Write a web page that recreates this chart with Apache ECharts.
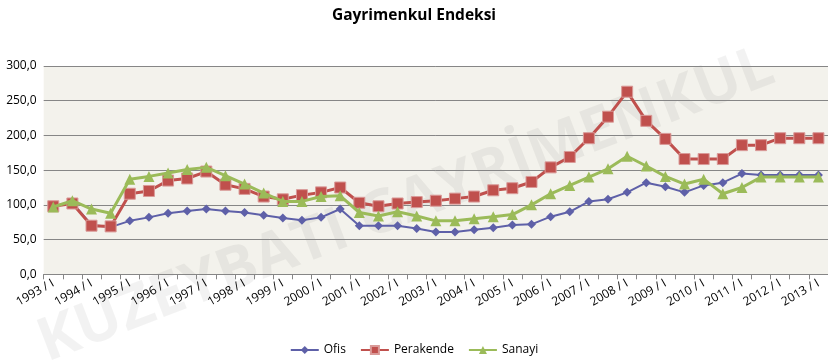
<!DOCTYPE html>
<html><head><meta charset="utf-8">
<script src="https://cdn.jsdelivr.net/npm/echarts@6/dist/echarts.min.js"></script>
<style>html,body{margin:0;padding:0;background:#fff}#c{width:828px;height:364px}</style>
</head><body><div id="c"></div>
<script>
const years = [1993,1994,1995,1996,1997,1998,1999,2000,2001,2002,2003,2004,2005,2006,2007,2008,2009,2010,2011,2012,2013];
const halves = ['I','II'];
const categories = [];
years.forEach(y => halves.forEach(h => { if (!(y === 2013 && h === 'II')) categories.push(y + ' / ' + h); }));

const ofis = [98,103,71,68,77,82,88,91,94,91,89,85,81,78,82,94,70,70,70,66,61,61,64,67,71,72,83,90,105,108,118,132,126,118,128,132,145,143,143,143,143];
const perakende = [98,102,70,69,116,120,135,138,148,129,123,112,108,114,118,125,103,98,102,104,106,109,112,121,124,133,154,169,196,227,263,221,195,166,166,166,186,186,196,196,196];
const sanayi = [97,106,94,88,137,141,146,151,154,142,130,117,105,105,112,113,89,84,90,84,77,77,80,83,86,100,116,128,140,152,170,156,141,130,137,116,125,140,140,140,140];

const FONT = 'Open Sans';
const chart = echarts.init(document.getElementById('c'), null, {renderer: 'canvas'});
chart.setOption({
  animation: false,
  backgroundColor: '#fff',
  textStyle: {fontFamily: FONT},
  title: {
    text: 'Gayrimenkul Endeksi', left: 'center', top: 3,
    textStyle: {fontFamily: FONT, fontWeight: 'bold', fontSize: 15.5, color: '#000'}
  },
  graphic: [{
    type: 'text', z: 0, silent: true,
    rotation: 21 * Math.PI / 180,
    x: 30, y: 318,
    style: {text: 'KUZEYBATI GAYRİMENKUL', font: 'bold 60px "Open Sans"', fill: 'rgba(0,0,0,0.05)'}
  }],
  grid: {left: 43.7, right: -2.9, top: 66, bottom: 89.7, show: true, backgroundColor: '#F3F2EC', borderWidth: 0},
  legend: {
    bottom: 3, left: 'center', itemWidth: 28, itemHeight: 10, itemGap: 14,
    textStyle: {fontFamily: FONT, fontSize: 12, color: '#000'},
    data: ['Ofis', 'Perakende', 'Sanayi']
  },
  xAxis: {
    type: 'category', data: categories, boundaryGap: true,
    axisLine: {lineStyle: {color: '#868686', width: 1}},
    axisTick: {show: true, interval: 0, length: 5, lineStyle: {color: '#868686'}},
    axisLabel: {interval: 1, rotate: 30, fontSize: 12, color: '#000', fontFamily: FONT, margin: 8},
    splitLine: {show: false}
  },
  yAxis: {
    type: 'value', min: 0, max: 300, interval: 50,
    axisLine: {show: false}, axisTick: {show: false},
    axisLabel: {fontSize: 12, color: '#000', fontFamily: FONT, margin: 7,
      formatter: v => v.toFixed(1).replace('.', ',')},
    splitLine: {lineStyle: {color: '#868686', width: 1}}
  },
  series: [
    {name: 'Ofis', type: 'line', data: ofis, symbol: 'diamond', symbolSize: 9,
     lineStyle: {color: '#5E60A8', width: 2}, itemStyle: {color: '#5E60A8'}, z: 3},
    {name: 'Perakende', type: 'line', data: perakende, symbol: 'rect', symbolSize: 11,
     lineStyle: {color: '#C0504D', width: 3}, itemStyle: {color: '#C0504D', borderColor: '#D99A98', borderWidth: 1}, z: 4},
    {name: 'Sanayi', type: 'line', data: sanayi, symbol: 'triangle', symbolSize: 11,
     lineStyle: {color: '#9BBB59', width: 3}, itemStyle: {color: '#9BBB59'}, z: 5}
  ]
});
</script></body></html>
